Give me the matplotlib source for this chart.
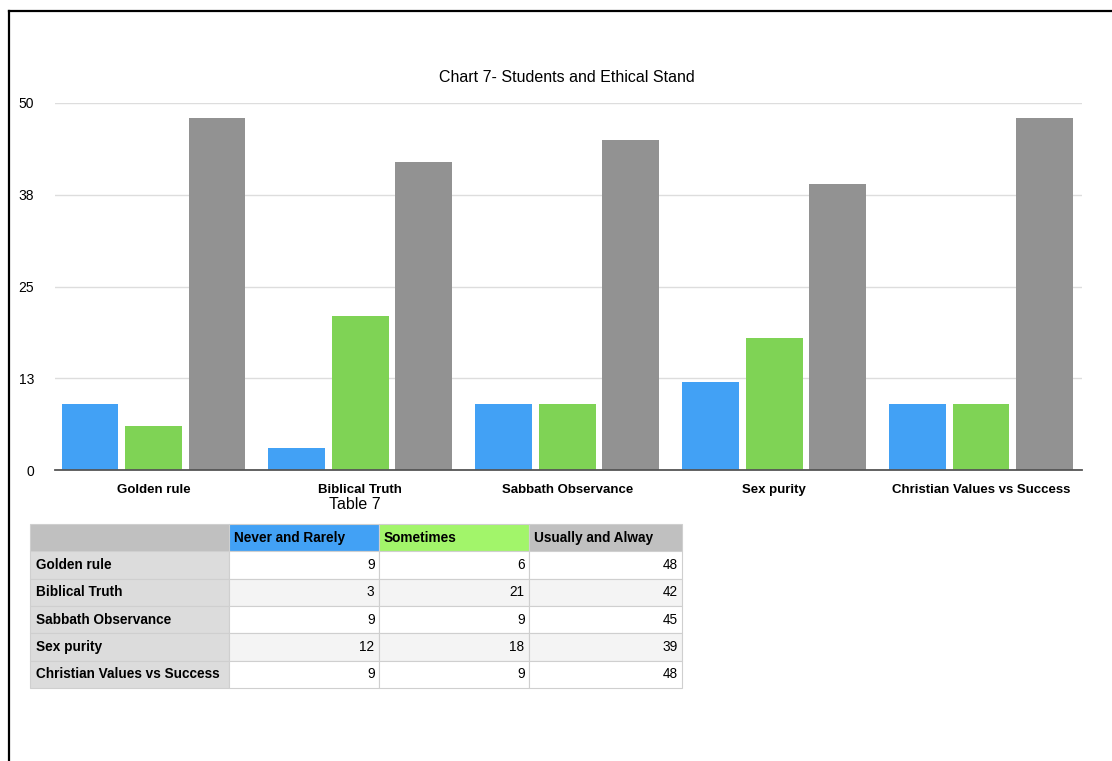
import matplotlib
matplotlib.use("Agg")
import matplotlib.pyplot as plt
from matplotlib.lines import Line2D
import numpy as np

plt.rcParams["font.family"] = ["Liberation Sans", "DejaVu Sans"]

categories = ["Golden rule", "Biblical Truth", "Sabbath Observance", "Sex purity",
              "Christian Values vs Success"]
series_names = ["Never and Rarely", "Sometimes", "Usually and Alway"]
never_rarely = [9, 3, 9, 12, 9]
sometimes = [6, 21, 9, 18, 9]
usually_always = [48, 42, 45, 39, 48]
y_ticks = [0, 12.5, 25, 37.5, 50]
y_tick_labels = ["0", "13", "25", "38", "50"]

bar_colors = ["#42A1F5", "#7FD355", "#929292"]
head_colors = ["#42A1F5", "#A2F56A", "#C0C0C0"]

W, H = 1112, 761
fig = plt.figure(figsize=(W / 100, H / 100), dpi=100)

# outer frame (left + top only)
fig.add_artist(Line2D([9 / W, 9 / W], [0, 1 - 11 / H], color="black", lw=1.6))
fig.add_artist(Line2D([9 / W, 1], [1 - 11 / H, 1 - 11 / H], color="black", lw=1.6))

ax = fig.add_axes([55 / W, 1 - 470 / H, (1082 - 55) / W, (470 - 103) / H])
x = np.arange(len(categories))
width = 0.275
step = 0.307
for i, vals in enumerate([never_rarely, sometimes, usually_always]):
    ax.bar(x + (i - 1) * step, vals, width, color=bar_colors[i], zorder=3)

ax.set_xlim(-0.476, 4.488)
ax.set_ylim(0, 50)
ax.set_yticks(y_ticks)
ax.set_yticklabels(y_tick_labels, fontsize=10)
ax.set_xticks(x)
ax.set_xticklabels(categories, fontsize=9.5, fontweight="bold")
ax.tick_params(axis="both", length=0)
ax.tick_params(axis="y", pad=15)
ax.tick_params(axis="x", pad=10)
ax.grid(axis="y", color="#DDDDDD", lw=1, zorder=0)
for s in ["top", "right", "left"]:
    ax.spines[s].set_visible(False)
ax.spines["bottom"].set_color("#555555")
ax.spines["bottom"].set_linewidth(1.3)
ax.spines["bottom"].set_zorder(4)

fig.text(567 / W, 1 - 78 / H, "Chart 7- Students and Ethical Stand",
         ha="center", va="center", fontsize=11.5)
fig.text(355 / W, 1 - 504 / H, "Table 7", ha="center", va="center", fontsize=11.5)

# data table
tax = fig.add_axes([30 / W, 1 - 688 / H, (682 - 30) / W, (688 - 524) / H])
tax.axis("off")
cell_text = [[""] + series_names]
for c, a, b, d in zip(categories, never_rarely, sometimes, usually_always):
    cell_text.append([c, str(a), str(b), str(d)])
col_w = [199, 150, 150, 153]
tbl = tax.table(cellText=cell_text, bbox=[0, 0, 1, 1], colWidths=[w / 652 for w in col_w])
tbl.auto_set_font_size(False)
for (r, c), cell in tbl.get_celld().items():
    cell.set_edgecolor("#CFCFCF")
    cell.set_linewidth(0.8)
    txt = cell.get_text()
    txt.set_fontsize(9.8)
    cell.PAD = 0.03
    if r == 0:
        cell.set_facecolor("#C0C0C0" if c == 0 else head_colors[c - 1])
        txt.set_fontweight("bold")
        cell.set_text_props(ha="left")
    elif c == 0:
        cell.set_facecolor("#DCDCDC")
        txt.set_fontweight("bold")
        cell.set_text_props(ha="left")
    else:
        cell.set_facecolor("white" if r % 2 == 1 else "#F4F4F4")
        cell.set_text_props(ha="right")

fig.savefig("out.png", dpi=100)
